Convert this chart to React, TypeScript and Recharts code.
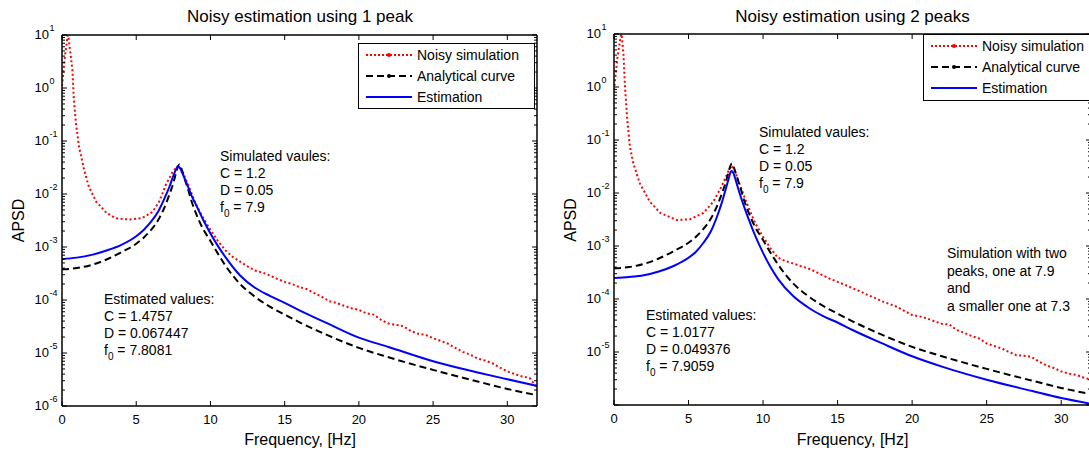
import { LineChart, Line, XAxis, YAxis, Legend } from 'recharts'

// frequency grid (Hz) used for the smooth curves, denser around the resonance
const freq = [0, 1, 2, 3, 4, 5, 5.5, 6, 6.5, 7, 7.25, 7.5, 7.7, 7.8, 7.9, 8.0, 8.1, 8.3, 8.5, 8.75, 9, 9.5, 10, 10.5, 11, 12, 13, 14, 15, 16, 18, 20, 22, 25, 28, 30, 32]

// analytical curve (same in both panels)
const analytical = [3.8e-4, 4.0e-4, 4.6e-4, 5.8e-4, 8.0e-4, 1.15e-3, 1.5e-3, 2.1e-3, 3.3e-3, 6.5e-3, 1.0e-2, 1.6e-2, 2.6e-2, 3.2e-2, 3.6e-2, 3.3e-2, 2.7e-2, 1.8e-2, 1.2e-2, 7.0e-3, 4.5e-3, 2.2e-3, 1.3e-3, 7.5e-4, 4.5e-4, 2.0e-4, 1.15e-4, 7.5e-5, 5.3e-5, 3.8e-5, 2.1e-5, 1.25e-5, 8.3e-6, 4.8e-6, 2.9e-6, 2.1e-6, 1.6e-6]

// estimation, 1 peak
const estimation1 = [5.9e-4, 6.3e-4, 7.1e-4, 8.6e-4, 1.1e-3, 1.6e-3, 2.1e-3, 3.0e-3, 4.8e-3, 9.5e-3, 1.4e-2, 2.2e-2, 3.0e-2, 3.3e-2, 3.2e-2, 2.9e-2, 2.5e-2, 1.85e-2, 1.35e-2, 9.0e-3, 6.5e-3, 3.3e-3, 1.8e-3, 1.05e-3, 6.5e-4, 2.9e-4, 1.7e-4, 1.2e-4, 8.8e-5, 6.4e-5, 3.5e-5, 1.95e-5, 1.3e-5, 7.0e-6, 4.3e-6, 3.2e-6, 2.4e-6]

// estimation, 2 peaks
const estimation2 = [2.5e-4, 2.6e-4, 2.8e-4, 3.3e-4, 4.2e-4, 6.0e-4, 7.8e-4, 1.15e-3, 1.9e-3, 4.2e-3, 6.8e-3, 1.2e-2, 1.9e-2, 2.4e-2, 2.6e-2, 2.4e-2, 2.0e-2, 1.3e-2, 8.5e-3, 5.3e-3, 3.4e-3, 1.5e-3, 7.4e-4, 4.0e-4, 2.4e-4, 1.15e-4, 7.0e-5, 4.8e-5, 3.6e-5, 2.6e-5, 1.45e-5, 8.3e-6, 5.3e-6, 3.0e-6, 1.85e-6, 1.35e-6, 1.05e-6]

// noisy simulation, 1 peak
const noisyFreq1 = [0, 0.2, 0.4, 0.55, 0.7, 0.8, 0.95, 1.15, 1.5, 1.8, 2.3, 3.0, 3.6, 4.5, 5.4, 6.1, 6.55, 7.0, 7.45, 7.75, 7.9, 8.1, 8.5, 9, 9.5, 10, 10.5, 11, 11.5, 12, 12.5, 13, 13.5, 14, 14.5, 15, 15.5, 16, 16.5, 17, 17.5, 18, 18.5, 19, 19.5, 20, 20.5, 21, 21.5, 22, 22.5, 23, 23.5, 24, 24.5, 25, 25.5, 26, 26.5, 27, 27.5, 28, 28.5, 29, 29.5, 30, 30.5, 31, 31.5, 32]
const noisy1 = [1.1, 4, 11, 5, 2.2, 0.6, 0.2, 0.077, 0.028, 0.014, 7.2e-3, 4.4e-3, 3.5e-3, 3.3e-3, 3.5e-3, 4.6e-3, 7.2e-3, 1.5e-2, 2.6e-2, 3.3e-2, 3.4e-2, 2.7e-2, 1.5e-2, 6.5e-3, 3.6e-3, 2.1e-3, 1.3e-3, 8.7e-4, 6.5e-4, 5.3e-4, 4.3e-4, 3.6e-4, 3.3e-4, 2.9e-4, 2.5e-4, 2.2e-4, 2.0e-4, 1.75e-4, 1.6e-4, 1.35e-4, 1.15e-4, 9.5e-5, 8.8e-5, 7.8e-5, 7.0e-5, 6.5e-5, 5.6e-5, 5.3e-5, 4.2e-5, 3.6e-5, 3.4e-5, 3.2e-5, 2.6e-5, 2.3e-5, 2.2e-5, 1.9e-5, 1.7e-5, 1.5e-5, 1.25e-5, 1.05e-5, 9.3e-6, 7.9e-6, 7.2e-6, 6.4e-6, 5.3e-6, 4.5e-6, 4.0e-6, 3.6e-6, 3.4e-6, 2.2e-6]

// noisy simulation, 2 peaks
const noisyFreq2 = [0, 0.25, 0.5, 0.63, 0.74, 0.89, 1.07, 1.3, 1.74, 2.4, 3.1, 4.2, 5.1, 6.0, 6.67, 7.2, 7.65, 7.9, 8.1, 8.5, 9, 9.5, 10, 10.5, 11, 11.5, 12, 12.5, 13, 13.5, 14, 14.5, 15, 15.5, 16, 16.5, 17, 17.5, 18, 18.5, 19, 19.5, 20, 20.5, 21, 21.5, 22, 22.5, 23, 23.5, 24, 24.5, 25, 25.5, 26, 26.5, 27, 27.5, 28, 28.5, 29, 29.5, 30, 30.5, 31, 31.5, 32]
const noisy2 = [0.87, 4, 11, 4.3, 1.0, 0.24, 0.074, 0.036, 0.015, 6.9e-3, 4.2e-3, 3.1e-3, 3.2e-3, 4.2e-3, 6.9e-3, 1.3e-2, 2.5e-2, 3.3e-2, 2.6e-2, 1.3e-2, 5.5e-3, 2.6e-3, 1.5e-3, 9.0e-4, 6.0e-4, 5.2e-4, 4.7e-4, 4.2e-4, 3.8e-4, 3.3e-4, 2.8e-4, 2.4e-4, 2.1e-4, 1.85e-4, 1.6e-4, 1.4e-4, 1.2e-4, 1.05e-4, 9.0e-5, 8.0e-5, 7.1e-5, 5.9e-5, 5.0e-5, 4.7e-5, 4.3e-5, 3.8e-5, 3.4e-5, 3.3e-5, 2.6e-5, 2.3e-5, 2.0e-5, 1.8e-5, 1.45e-5, 1.3e-5, 1.17e-5, 1.0e-5, 8.7e-6, 8.5e-6, 8.1e-6, 6.6e-6, 5.6e-6, 5.0e-6, 4.3e-6, 3.9e-6, 3.7e-6, 3.3e-6, 3.0e-6]

const xTicks = [0, 5, 10, 15, 20, 25, 30]
const yExponents = [-6, -5, -4, -3, -2, -1, 0, 1]
const seriesNames = ['Noisy simulation', 'Analytical curve', 'Estimation']

const yMajor = yExponents.map(e => Math.pow(10, e))
const yMinor: number[] = []
yExponents.slice(0, -1).forEach(e => {
    for (let m = 2; m <= 9; m++) yMinor.push(m * Math.pow(10, e))
})
const yTicks = [...yMajor, ...yMinor].sort((a, b) => a - b)

const toRows = (fs: number[], vs: number[]) => fs.map((f, i) => ({ f, v: vs[i] }))

const FONT = '"Liberation Sans", Arial, Helvetica, sans-serif'
const RED = '#ff0000'
const BLUE = '#0000ff'

type TickProps = { x?: number; y?: number; payload?: { value: number } }

const isMajor = (v: number) => Math.abs(Math.log10(v) - Math.round(Math.log10(v))) < 1e-9

function BottomTick({ x = 0, y = 0, payload }: TickProps) {
    return (
        <g>
            <line x1={x} x2={x} y1={y} y2={y - 5} stroke="#000" />
            <text x={x} y={y + 18} textAnchor="middle" fontSize={13} fontFamily={FONT} fill="#000">
                {payload?.value}
            </text>
        </g>
    )
}

function TopTick({ x = 0, y = 0 }: TickProps) {
    return <line x1={x} x2={x} y1={y} y2={y + 5} stroke="#000" />
}

function makeLeftTick(hideBottomLabel: boolean) {
    return ({ x = 0, y = 0, payload }: TickProps) => {
        const v = payload?.value ?? 1
        const major = isMajor(v)
        const e = Math.round(Math.log10(v))
        const showLabel = major && !(hideBottomLabel && e === -6)
        return (
            <g>
                <line x1={x} x2={x + (major ? 5 : 3)} y1={y} y2={y} stroke="#000" />
                {showLabel && (
                    <g fontFamily={FONT} fill="#000">
                        <text x={x - 13} y={y + 3.5} textAnchor="end" fontSize={13}>10</text>
                        <text x={x - 12.5} y={y - 4} textAnchor="start" fontSize={9}>{e}</text>
                    </g>
                )}
            </g>
        )
    }
}

function RightTick({ x = 0, y = 0, payload }: TickProps) {
    const major = isMajor(payload?.value ?? 1)
    return <line x1={x} x2={x - (major ? 5 : 3)} y1={y} y2={y} stroke="#000" />
}

function LegendBox() {
    const sample = (i: number) => {
        if (i === 0) return (
            <svg width={46} height={10}>
                <line x1={0} x2={46} y1={5} y2={5} stroke={RED} strokeWidth={2} strokeDasharray="2 2" />
                <circle cx={23} cy={5} r={2} fill={RED} />
            </svg>
        )
        if (i === 1) return (
            <svg width={46} height={10}>
                <line x1={0} x2={46} y1={5} y2={5} stroke="#000" strokeWidth={2} strokeDasharray="7 4" />
                <circle cx={23} cy={5} r={2} fill="#000" />
            </svg>
        )
        return (
            <svg width={46} height={10}>
                <line x1={0} x2={46} y1={5} y2={5} stroke={BLUE} strokeWidth={2} />
            </svg>
        )
    }
    return (
        <div style={{
            border: '1px solid #000', background: '#fff', boxSizing: 'border-box',
            width: '100%', height: '100%', padding: '1px 0 0 7px', fontFamily: FONT, fontSize: 14, color: '#000'
        }}>
            {seriesNames.map((n, i) => (
                <div key={n} style={{ display: 'flex', alignItems: 'center', height: 20.7 }}>
                    {sample(i)}
                    <span style={{ marginLeft: 5, whiteSpace: 'nowrap' }}>{n}</span>
                </div>
            ))}
        </div>
    )
}

interface PanelProps {
    noisy: { f: number; v: number }[]
    estimation: { f: number; v: number }[]
    width: number
    margin: { top: number; right: number; bottom: number; left: number }
    yWidth: number
    rWidth: number
    hideBottomLabel: boolean
    legendStyle: React.CSSProperties
}

function Panel({ noisy, estimation, width, margin, yWidth, rWidth, hideBottomLabel, legendStyle }: PanelProps) {
    const analyticalRows = toRows(freq, analytical)
    return (
        <LineChart width={width} height={451} margin={margin}>
            <XAxis xAxisId="b" type="number" dataKey="f" domain={[0, 32]} allowDataOverflow ticks={xTicks}
                interval={0} height={30} tickSize={0} tickMargin={0} tickLine={false}
                axisLine={{ stroke: '#000', strokeWidth: 1.5 }} tick={BottomTick} />
            <XAxis xAxisId="t" orientation="top" type="number" dataKey="f" domain={[0, 32]} allowDataOverflow
                ticks={xTicks} interval={0} height={5} tickSize={0} tickMargin={0} tickLine={false}
                axisLine={{ stroke: '#000', strokeWidth: 1.5 }} tick={TopTick} />
            <YAxis yAxisId="l" type="number" scale="log" domain={[1e-6, 10]} allowDataOverflow ticks={yTicks}
                interval={0} width={yWidth} tickSize={0} tickMargin={0} tickLine={false}
                axisLine={{ stroke: '#000', strokeWidth: 1.5 }} tick={makeLeftTick(hideBottomLabel)} />
            <YAxis yAxisId="r" orientation="right" type="number" scale="log" domain={[1e-6, 10]} allowDataOverflow
                ticks={yTicks} interval={0} width={rWidth} tickSize={0} tickMargin={0} tickLine={false}
                axisLine={{ stroke: '#000', strokeWidth: 1.5 }} tick={RightTick} />
            <Line data={noisy} dataKey="v" name={seriesNames[0]} xAxisId="b" yAxisId="l" type="linear"
                stroke={RED} strokeWidth={2} strokeDasharray="2 2.5" dot={false} isAnimationActive={false} />
            <Line data={analyticalRows} dataKey="v" name={seriesNames[1]} xAxisId="b" yAxisId="l" type="monotone"
                stroke="#000" strokeWidth={2} strokeDasharray="7 4" dot={false} isAnimationActive={false} />
            <Line data={estimation} dataKey="v" name={seriesNames[2]} xAxisId="b" yAxisId="l" type="monotone"
                stroke={BLUE} strokeWidth={2} dot={false} isAnimationActive={false} />
            <Legend layout="horizontal" verticalAlign="middle" align="center"
                wrapperStyle={legendStyle} content={() => <LegendBox />} />
        </LineChart>
    )
}

function Note({ x, y, lines, step = 17 }: { x: number; y: number; lines: string[]; step?: number }) {
    return (
        <text x={x} y={y} fontSize={14} fontFamily={FONT} fill="#000">
            {lines.map((l, i) => {
                const yy = y + i * step
                if (l.startsWith('f_0')) {
                    return (
                        <tspan key={i} x={x} y={yy}>
                            f<tspan dy={5} fontSize={10}>0</tspan><tspan dy={-5}>{l.slice(3)}</tspan>
                        </tspan>
                    )
                }
                return <tspan key={i} x={x} y={yy}>{l}</tspan>
            })}
        </text>
    )
}

export default function App() {
    return (
        <div style={{ position: 'relative', width: 1089, height: 451, overflow: 'hidden', background: '#fff' }}>
            <style>{'body{margin:0;overflow:hidden;}'}</style>
            <div style={{ position: 'absolute', left: 0, top: 0 }}>
                <Panel noisy={toRows(noisyFreq1, noisy1)} estimation={toRows(freq, estimation1)} width={560}
                    margin={{ top: 30, right: 13, bottom: 15, left: 12 }} yWidth={50} rWidth={10}
                    hideBottomLabel={false}
                    legendStyle={{ left: 358, top: 43, width: 177, height: 66 }} />
            </div>
            <div style={{ position: 'absolute', left: 560, top: 0 }}>
                <Panel noisy={toRows(noisyFreq2, noisy2)} estimation={toRows(freq, estimation2)} width={540}
                    margin={{ top: 29, right: 4, bottom: 16, left: 9 }} yWidth={45} rWidth={5}
                    hideBottomLabel={true}
                    legendStyle={{ left: 363, top: 34, width: 170, height: 67 }} />
            </div>
            <svg width={1089} height={451} style={{ position: 'absolute', left: 0, top: 0, pointerEvents: 'none' }}>
                <g fontFamily={FONT} fill="#000">
                    <text x={300} y={22} fontSize={17} textAnchor="middle">Noisy estimation using 1 peak</text>
                    <text x={852.5} y={22} fontSize={17} textAnchor="middle">Noisy estimation using 2 peaks</text>
                    <text x={300} y={445} fontSize={16} textAnchor="middle">Frequency, [Hz]</text>
                    <text x={852.5} y={445} fontSize={16} textAnchor="middle">Frequency, [Hz]</text>
                    <text transform="translate(23.5,220.5) rotate(-90)" fontSize={16} textAnchor="middle">APSD</text>
                    <text transform="translate(575.5,220) rotate(-90)" fontSize={16} textAnchor="middle">APSD</text>
                </g>
                <Note x={220} y={160.5} lines={['Simulated vaules:', 'C = 1.2', 'D = 0.05', 'f_0 = 7.9']} />
                <Note x={104} y={304} lines={['Estimated values:', 'C = 1.4757', 'D = 0.067447', 'f_0 = 7.8081']} />
                <Note x={759} y={137} lines={['Simulated vaules:', 'C = 1.2', 'D = 0.05', 'f_0 = 7.9']} />
                <Note x={646} y={320} lines={['Estimated values:', 'C = 1.0177', 'D = 0.049376', 'f_0 = 7.9059']} />
                <Note x={947} y={258} step={17.6} lines={['Simulation with two', 'peaks, one at 7.9', 'and', 'a smaller one at 7.3']} />
            </svg>
        </div>
    )
}
